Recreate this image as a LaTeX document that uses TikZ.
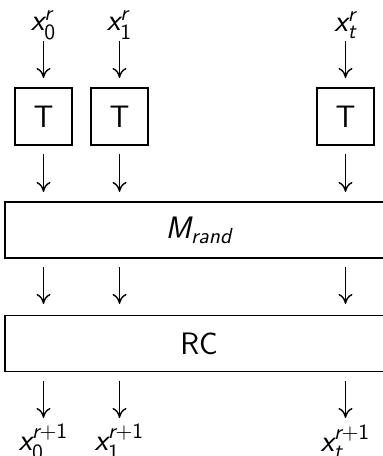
\documentclass[tikz,border=0pt]{standalone}
\usepackage{amsmath}
\usetikzlibrary{arrows.meta}
\newcommand\sfi[1]{\textsf{\itshape #1}}
\newcommand\sfu[1]{\textsf{\upshape #1}}
\begin{document}
\begin{tikzpicture}[x=0.5pt,y=-0.5pt,
  every node/.style={font=\fontsize{15.5}{18}\selectfont\sffamily},
  tbox/.style={draw,line width=0.55pt,minimum width=28.5pt,minimum height=28.5pt,inner sep=0pt},
  wbox/.style={draw,line width=0.55pt,minimum height=28pt,inner sep=0pt},
  lbl/.style={inner sep=0pt},
  arr/.style={line width=0.7pt,-{Computer Modern Rightarrow[length=5pt,width=7pt]}}]
\useasboundingbox (0,0) rectangle (382,456);
% top labels
\node[lbl] (i0) at (43.5,25) {$\sfi{x}_{\sfu{0}}^{\sfi{r}}$};
\node[lbl] (i1) at (119.5,25) {$\sfi{x}_{\sfu{1}}^{\sfi{r}}$};
\node[lbl] (i2) at (345.5,25) {$\sfi{x}_{\sfi{t}}^{\sfi{r}}$};
% T boxes
\node[tbox] (t0) at (43.5,116.5) {T};
\node[tbox] (t1) at (119.5,116.5) {T};
\node[tbox] (t2) at (345.5,116.5) {T};
% wide boxes
\node[wbox,minimum width=194pt] (m) at (199,230) {$\sfi{M}_{\sfi{rand}}$};
\node[wbox,minimum width=194pt] (rc) at (199,343.5) {RC};
% bottom labels
\node[lbl] (o0) at (43.5,442) {$\sfi{x}_{\sfu{0}}^{\sfi{r}\sfu{+1}}$};
\node[lbl] (o1) at (119.5,442) {$\sfi{x}_{\sfu{1}}^{\sfi{r}\sfu{+1}}$};
\node[lbl] (o2) at (345.5,442) {$\sfi{x}_{\sfi{t}}^{\sfi{r}\sfu{+1}}$};
% arrows
\foreach \c in {43.5,119.5,345.5}{
  \draw[arr] (\c,41) -- (\c,78);
  \draw[arr] (\c,154) -- (\c,192);
  \draw[arr] (\c,267) -- (\c,304);
  \draw[arr] (\c,381) -- (\c,418);
}
\end{tikzpicture}
\end{document}
